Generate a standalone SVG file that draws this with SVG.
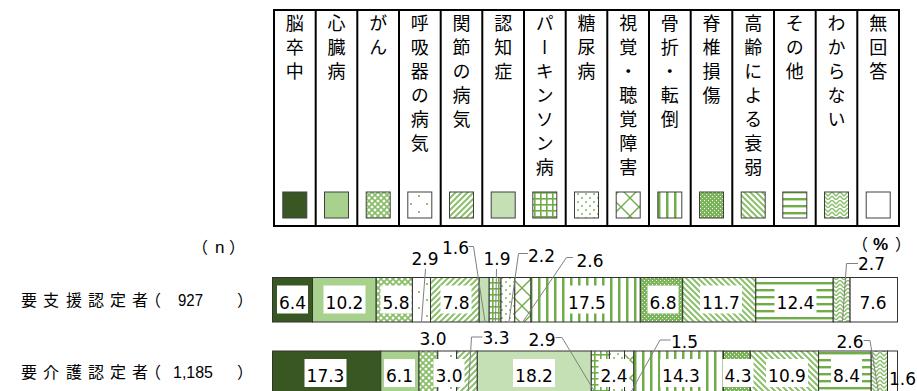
<svg xmlns="http://www.w3.org/2000/svg" width="917" height="391" viewBox="0 0 917 391">
<style>
.lg{font-family:"Noto Sans CJK JP","Noto Sans CJK SC",sans-serif;font-size:18px;fill:#000;writing-mode:vertical-rl;letter-spacing:6px}
.frame{stroke:#000;stroke-width:2;fill:none}
.sw{stroke:#404040;stroke-width:1}
.seg{stroke:#333;stroke-width:1}
.v{font-family:"DejaVu Sans",Verdana,sans-serif;font-size:17px;fill:#000;text-anchor:middle}
.box{fill:#fff}
.lead{stroke:#808080;stroke-width:1;fill:none}
.rl{font-family:"Noto Sans CJK JP","Noto Sans CJK SC",sans-serif;font-size:16px;fill:#000}
.num{font-family:"Liberation Sans",Arial,sans-serif;font-size:17px;fill:#000}
</style>
<defs>
<pattern id="pGan" width="6" height="6" patternUnits="userSpaceOnUse"><rect width="6" height="6" fill="#fff"/><path d="M0,0L6,6M6,0L0,6" stroke="#86BC64" stroke-width="1.6"/></pattern>
<pattern id="pKokyu" width="16" height="16" patternUnits="userSpaceOnUse"><rect width="16" height="16" fill="#fff"/><circle cx="3" cy="4" r="1" fill="#70AD47"/><circle cx="11" cy="12" r="1" fill="#70AD47"/></pattern>
<pattern id="pKansetsu" width="6" height="6" patternUnits="userSpaceOnUse"><rect width="6" height="6" fill="#fff"/><path d="M-1.5,1.5L1.5,-1.5M0,6L6,0M4.5,7.5L7.5,4.5" stroke="#8CC06C" stroke-width="2"/></pattern>
<pattern id="pParkin" width="6" height="6" patternUnits="userSpaceOnUse"><rect width="6" height="6" fill="#fff"/><rect width="6" height="1.6" fill="#70AD47"/><rect width="1.6" height="6" fill="#70AD47"/></pattern>
<pattern id="pTonyo" width="8" height="8" patternUnits="userSpaceOnUse"><rect width="8" height="8" fill="#fff"/><circle cx="2" cy="2" r="0.9" fill="#70AD47"/><circle cx="6" cy="6" r="0.9" fill="#70AD47"/></pattern>
<pattern id="pShikaku" width="18" height="18" patternUnits="userSpaceOnUse"><rect width="18" height="18" fill="#fff"/><path d="M0,0L18,18M18,0L0,18" stroke="#70AD47" stroke-width="1.4"/></pattern>
<pattern id="pKossetsu" width="8" height="8" patternUnits="userSpaceOnUse"><rect width="8" height="8" fill="#fff"/><rect x="2" width="2.5" height="8" fill="#70AD47"/></pattern>
<pattern id="pSekitsui" width="4" height="4" patternUnits="userSpaceOnUse"><rect width="4" height="4" fill="#7DB35A"/><rect width="1" height="1" fill="#fff"/><rect x="2" y="2" width="1" height="1" fill="#D6EBC8"/></pattern>
<pattern id="pKorei" width="6" height="6" patternUnits="userSpaceOnUse"><rect width="6" height="6" fill="#fff"/><path d="M0,0L6,6M-1.5,4.5L1.5,7.5M4.5,-1.5L7.5,1.5" stroke="#8CC06C" stroke-width="2"/></pattern>
<pattern id="pSonota" width="8" height="7" patternUnits="userSpaceOnUse"><rect width="8" height="7" fill="#fff"/><rect y="2" width="8" height="2.4" fill="#70AD47"/></pattern>
<pattern id="pWakaranai" width="8" height="8" patternUnits="userSpaceOnUse"><rect width="8" height="8" fill="#fff"/><path d="M0,0L4,4L8,0M0,4L4,8L8,4" stroke="#8CC06C" stroke-width="1.5" fill="none"/></pattern>
</defs>

<rect x="0" y="0" width="917" height="391" fill="#fff"/>
<g id="legend">
<path class="frame" d="M274,10H899V226H274Z M315.7,10V226 M357.3,10V226 M399,10V226 M440.7,10V226 M482.3,10V226 M524,10V226 M565.7,10V226 M607.3,10V226 M649,10V226 M690.7,10V226 M732.3,10V226 M774,10V226 M815.7,10V226 M857.3,10V226"/>
<g id="lg-1"><text class="lg" x="294.8" y="14">脳卒中</text><rect class="sw" x="282.8" y="192" width="24" height="26" fill="#385723"/></g>
<g id="lg-2"><text class="lg" x="336.5" y="14">心臓病</text><rect class="sw" x="324.5" y="192" width="24" height="26" fill="#A9D18E"/></g>
<g id="lg-3"><text class="lg" x="378.2" y="14">がん</text><rect class="sw" x="366.2" y="192" width="24" height="26" fill="url(#pGan)"/></g>
<g id="lg-4"><text class="lg" x="419.8" y="14">呼吸器の病気</text><rect class="sw" x="407.8" y="192" width="24" height="26" fill="url(#pKokyu)"/></g>
<g id="lg-5"><text class="lg" x="461.5" y="14">関節の病気</text><rect class="sw" x="449.5" y="192" width="24" height="26" fill="url(#pKansetsu)"/></g>
<g id="lg-6"><text class="lg" x="503.2" y="14">認知症</text><rect class="sw" x="491.2" y="192" width="24" height="26" fill="#C5E0B4"/></g>
<g id="lg-7"><text class="lg" x="544.8" y="14">パーキンソン病</text><rect class="sw" x="532.8" y="192" width="24" height="26" fill="url(#pParkin)"/></g>
<g id="lg-8"><text class="lg" x="586.5" y="14">糖尿病</text><rect class="sw" x="574.5" y="192" width="24" height="26" fill="url(#pTonyo)"/></g>
<g id="lg-9"><text class="lg" x="628.2" y="14">視覚・聴覚障害</text><rect class="sw" x="616.2" y="192" width="24" height="26" fill="url(#pShikaku)"/></g>
<g id="lg-10"><text class="lg" x="669.8" y="14">骨折・転倒</text><rect class="sw" x="657.8" y="192" width="24" height="26" fill="url(#pKossetsu)"/></g>
<g id="lg-11"><text class="lg" x="711.5" y="14">脊椎損傷</text><rect class="sw" x="699.5" y="192" width="24" height="26" fill="url(#pSekitsui)"/></g>
<g id="lg-12"><text class="lg" x="753.2" y="14">高齢による衰弱</text><rect class="sw" x="741.2" y="192" width="24" height="26" fill="url(#pKorei)"/></g>
<g id="lg-13"><text class="lg" x="794.8" y="14">その他</text><rect class="sw" x="782.8" y="192" width="24" height="26" fill="url(#pSonota)"/></g>
<g id="lg-14"><text class="lg" x="836.5" y="14">わからない</text><rect class="sw" x="824.5" y="192" width="24" height="26" fill="url(#pWakaranai)"/></g>
<g id="lg-15"><text class="lg" x="878.2" y="14">無回答</text><rect class="sw" x="866.2" y="192" width="24" height="26" fill="#fff"/></g>
</g>

<g id="axis-labels">
<text class="rl" x="192" y="252.5">（</text>
<text class="num" x="215" y="252.5" font-size="15">n</text>
<text class="rl" x="229" y="252.5">）</text>
<text class="rl" x="21 43 66 88 110 132 145" y="306">要支援認定者（</text>
<text class="num" x="178" y="306" textLength="25" lengthAdjust="spacingAndGlyphs">927</text>
<text class="rl" x="237" y="306">）</text>
<text class="rl" x="21 43 66 88 110 132 145" y="378">要介護認定者（</text>
<text class="num" x="173" y="378" textLength="40" lengthAdjust="spacingAndGlyphs">1,185</text>
<text class="rl" x="237" y="378">）</text>
<text class="rl" x="852" y="250">（</text>
<text class="num" x="873" y="250" font-size="15" font-weight="bold">%</text>
<text class="rl" x="895" y="250">）</text>
</g>

<g id="bar-support">
<rect class="seg" x="272.5" y="277.5" width="40" height="44.5" fill="#385723"/>
<rect class="seg" x="312.5" y="277.5" width="63.7" height="44.5" fill="#A9D18E"/>
<rect class="seg" x="376.2" y="277.5" width="36.2" height="44.5" fill="url(#pGan)"/>
<rect class="seg" x="412.4" y="277.5" width="18.1" height="44.5" fill="url(#pKokyu)"/>
<rect class="seg" x="430.5" y="277.5" width="48.7" height="44.5" fill="url(#pKansetsu)"/>
<rect class="seg" x="479.2" y="277.5" width="10" height="44.5" fill="#C5E0B4"/>
<rect class="seg" x="489.2" y="277.5" width="11.8" height="44.5" fill="url(#pParkin)"/>
<rect class="seg" x="501" y="277.5" width="13.8" height="44.5" fill="url(#pTonyo)"/>
<rect class="seg" x="514.8" y="277.5" width="16.2" height="44.5" fill="url(#pShikaku)"/>
<rect class="seg" x="531" y="277.5" width="109.3" height="44.5" fill="url(#pKossetsu)"/>
<rect class="seg" x="640.3" y="277.5" width="42.4" height="44.5" fill="url(#pSekitsui)"/>
<rect class="seg" x="682.7" y="277.5" width="73.1" height="44.5" fill="url(#pKorei)"/>
<rect class="seg" x="755.8" y="277.5" width="77.4" height="44.5" fill="url(#pSonota)"/>
<rect class="seg" x="833.2" y="277.5" width="16.9" height="44.5" fill="url(#pWakaranai)"/>
<rect class="seg" x="850.1" y="277.5" width="47.4" height="44.5" fill="#fff"/>
</g>

<g id="bar-care">
<rect class="seg" x="272.5" y="351" width="108.3" height="45" fill="#385723"/>
<rect class="seg" x="380.8" y="351" width="38.2" height="45" fill="#A9D18E"/>
<rect class="seg" x="419" y="351" width="18.8" height="45" fill="url(#pGan)"/>
<rect class="seg" x="437.8" y="351" width="18.8" height="45" fill="url(#pKokyu)"/>
<rect class="seg" x="456.6" y="351" width="20.7" height="45" fill="url(#pKansetsu)"/>
<rect class="seg" x="477.3" y="351" width="114" height="45" fill="#C5E0B4"/>
<rect class="seg" x="591.3" y="351" width="18.1" height="45" fill="url(#pParkin)"/>
<rect class="seg" x="609.4" y="351" width="15.1" height="45" fill="url(#pTonyo)"/>
<rect class="seg" x="624.5" y="351" width="9.3" height="45" fill="url(#pShikaku)"/>
<rect class="seg" x="633.8" y="351" width="89.6" height="45" fill="url(#pKossetsu)"/>
<rect class="seg" x="723.4" y="351" width="26.9" height="45" fill="url(#pSekitsui)"/>
<rect class="seg" x="750.3" y="351" width="68.3" height="45" fill="url(#pKorei)"/>
<rect class="seg" x="818.6" y="351" width="52.6" height="45" fill="url(#pSonota)"/>
<rect class="seg" x="871.2" y="351" width="16.3" height="45" fill="url(#pWakaranai)"/>
<rect class="seg" x="887.5" y="351" width="10" height="45" fill="#fff"/>
</g>

<g id="leaders">
<path class="lead" d="M425.5,269L421.5,321.5"/>
<path class="lead" d="M468.5,246.5H473.5L485,321.5"/>
<path class="lead" d="M496.5,269L495.5,321.5"/>
<path class="lead" d="M528,253.5H518.5L509,321.5"/>
<path class="lead" d="M573,257.5H566.5L523,321.5"/>
<path class="lead" d="M858,263.5H846.5L842.5,321.5"/>
<path class="lead" d="M482.5,337H471.5L468,395.5"/>
<path class="lead" d="M555.5,337.5H562L597,395.5"/>
<path class="lead" d="M670.5,340H660L629,395.5"/>
<path class="lead" d="M863.5,340.5H870L879,395.5"/>
</g>

<g id="values-support">
<rect class="box" x="277" y="285.5" width="31" height="28"/><text class="v" x="292.5" y="308.5">6.4</text>
<rect class="box" x="323.5" y="285.5" width="42" height="28"/><text class="v" x="344.5" y="308.5">10.2</text>
<rect class="box" x="380.5" y="285.5" width="31" height="28"/><text class="v" x="396" y="308.5">5.8</text>
<rect class="box" x="440.5" y="285.5" width="31" height="28"/><text class="v" x="456" y="308.5">7.8</text>
<rect class="box" x="566" y="285.5" width="42" height="28"/><text class="v" x="587" y="308.5">17.5</text>
<rect class="box" x="647.5" y="285.5" width="31" height="28"/><text class="v" x="663" y="308.5">6.8</text>
<rect class="box" x="700" y="285.5" width="42" height="28"/><text class="v" x="721" y="308.5">11.7</text>
<rect class="box" x="774.5" y="285.5" width="42" height="28"/><text class="v" x="795.5" y="308.5">12.4</text>
<rect class="box" x="857.5" y="285.5" width="31" height="28"/><text class="v" x="873" y="308.5">7.6</text>
<text class="v" x="425" y="265">2.9</text>
<text class="v" x="455.5" y="254">1.6</text>
<text class="v" x="497" y="265">1.9</text>
<text class="v" x="541.5" y="261.5">2.2</text>
<text class="v" x="590" y="266.5">2.6</text>
<text class="v" x="871.5" y="270">2.7</text>
</g>

<g id="values-care">
<rect class="box" x="304.5" y="359" width="42" height="28"/><text class="v" x="325.5" y="381.5">17.3</text>
<rect class="box" x="384" y="359" width="31" height="28"/><text class="v" x="399.5" y="381.5">6.1</text>
<rect class="box" x="433.5" y="359" width="31" height="28"/><text class="v" x="449" y="381.5">3.0</text>
<rect class="box" x="513" y="359" width="42" height="28"/><text class="v" x="534" y="381.5">18.2</text>
<rect class="box" x="598.5" y="359" width="31" height="28"/><text class="v" x="614" y="381.5">2.4</text>
<rect class="box" x="660" y="359" width="42" height="28"/><text class="v" x="681" y="381.5">14.3</text>
<rect class="box" x="722.5" y="359" width="31" height="28"/><text class="v" x="738" y="381.5">4.3</text>
<rect class="box" x="766" y="359" width="42" height="28"/><text class="v" x="787" y="381.5">10.9</text>
<rect class="box" x="831" y="359" width="31" height="28"/><text class="v" x="846.5" y="381.5">8.4</text>
<text class="v" x="902.5" y="385">1.6</text>
<text class="v" x="433" y="345">3.0</text>
<text class="v" x="496" y="343.5">3.3</text>
<text class="v" x="542" y="345.5">2.9</text>
<text class="v" x="684.5" y="347.5">1.5</text>
<text class="v" x="850" y="348">2.6</text>
</g>
</svg>
